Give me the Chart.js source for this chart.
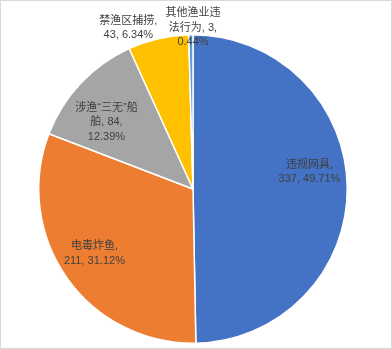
<!DOCTYPE html>
<html>
<head>
<meta charset="utf-8">
<script src="https://cdn.jsdelivr.net/npm/chart.js@4/dist/chart.umd.min.js"></script>
<style>
html,body{margin:0;padding:0;background:#fff;}
canvas{display:block;}
</style>
</head>
<body>
<canvas id="c" width="392" height="349"></canvas>
<script>
const categories = ['违规网具', '电毒炸鱼', '涉渔“三无”船舶', '禁渔区捕捞', '其他渔业违法行为'];
const values = [337, 211, 84, 43, 3];
const percents = ['49.71%', '31.12%', '12.39%', '6.34%', '0.44%'];
const labelLines = [
  ['违规网具,', '337, 49.71%'],
  ['电毒炸鱼,', '211, 31.12%'],
  ['涉渔“三无”船', '舶, 84,', '12.39%'],
  ['禁渔区捕捞,', '43, 6.34%'],
  ['其他渔业违', '法行为, 3,', '0.44%']
];
const colors = ['#4472C4', '#ED7D31', '#A5A5A5', '#FFC000', '#5B9BD5'];
// label anchor offsets relative to pie centre, in units of radius
const labelOffsets = [[0.755, -0.11], [-0.639, 0.419], [-0.561, -0.432], [-0.419, -1.045], [0.0, -1.045]];

const labelPlugin = {
  id: 'sliceLabels',
  beforeDraw(chart) {
    const ctx = chart.ctx;
    ctx.save();
    ctx.fillStyle = '#fff';
    ctx.fillRect(0, 0, chart.width, chart.height);
    ctx.strokeStyle = '#D9D9D9';
    ctx.lineWidth = 1;
    ctx.strokeRect(0.5, 0.5, chart.width - 1, chart.height - 1);
    ctx.restore();
  },
  afterDatasetsDraw(chart) {
    const ctx = chart.ctx;
    const meta = chart.getDatasetMeta(0);
    ctx.save();
    ctx.font = "11px 'Liberation Sans', 'Noto Sans CJK SC', sans-serif";
    ctx.fillStyle = '#404040';
    ctx.textAlign = 'center';
    ctx.textBaseline = 'middle';
    const lh = 14.5;
    meta.data.forEach((arc, i) => {
      const r = arc.outerRadius;
      const cx = arc.x + labelOffsets[i][0] * r;
      const cy = arc.y + labelOffsets[i][1] * r;
      const lines = labelLines[i];
      const y0 = cy - (lines.length - 1) * lh / 2;
      lines.forEach((t, k) => ctx.fillText(t, cx, y0 + k * lh));
    });
    ctx.restore();
  }
};

new Chart(document.getElementById('c'), {
  type: 'pie',
  data: {
    labels: categories,
    datasets: [{
      data: values,
      backgroundColor: colors,
      borderColor: '#ffffff',
      borderWidth: 1.5
    }]
  },
  options: {
    responsive: false,
    animation: false,
    layout: { padding: { top: 34, bottom: 5, left: 38, right: 44 } },
    plugins: {
      legend: { display: false },
      tooltip: { enabled: false }
    }
  },
  plugins: [labelPlugin]
});
</script>
</body>
</html>
